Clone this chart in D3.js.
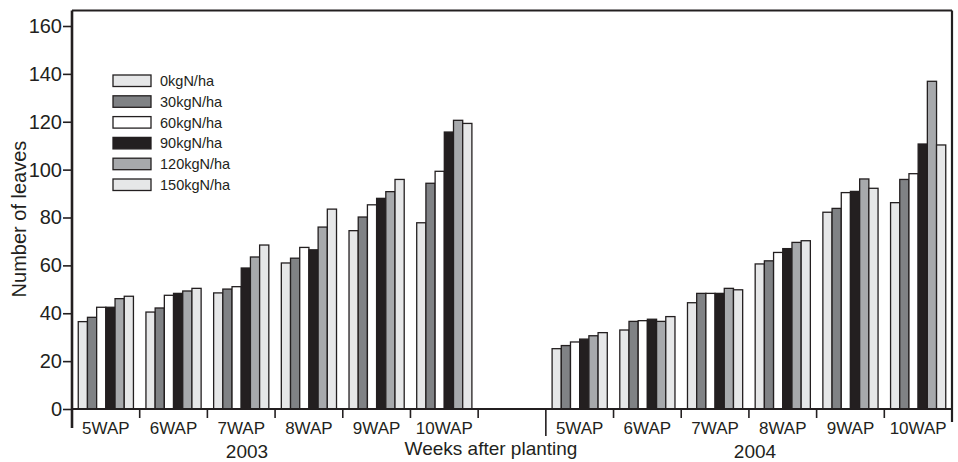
<!DOCTYPE html>
<html>
<head>
<meta charset="utf-8">
<script src="https://cdn.jsdelivr.net/npm/d3@7"></script>
<style>
  body { margin: 0; background: #fff; }
  text { font-family: 'Liberation Sans', Arial, Helvetica, sans-serif; fill: #231f20; }
</style>
</head>
<body>
<div id="chart"></div>
<script>
// Data
const weeks = ['5WAP', '6WAP', '7WAP', '8WAP', '9WAP', '10WAP']
const years = ['2003', '2004']
const rates = ['0kgN/ha', '30kgN/ha', '60kgN/ha', '90kgN/ha', '120kgN/ha', '150kgN/ha']
const yTicks = [0, 20, 40, 60, 80, 100, 120, 140, 160]

const values2003 = [
  [36.5, 38.3, 42.5, 42.5, 46.1, 47.1],
  [40.5, 42.2, 47.5, 48.3, 49.3, 50.4],
  [48.5, 50.1, 51.1, 58.9, 63.5, 68.5],
  [61, 63, 67.5, 66.5, 76, 83.5],
  [74.5, 80.2, 85.3, 88, 90.8, 95.9],
  [77.8, 94.3, 99.3, 115.7, 120.6, 119.3]
]
const values2004 = [
  [25.2, 26.5, 28, 29.2, 30.6, 31.9],
  [33, 36.6, 36.9, 37.5, 36.6, 38.6],
  [44.4, 48.3, 48.3, 48.3, 50.4, 49.8],
  [60.6, 61.9, 65.4, 67, 69.6, 70.3],
  [82.2, 83.8, 90.4, 90.9, 96.1, 92.2],
  [86.2, 95.9, 98.3, 110.7, 136.9, 110.3]
]

const colors = ['#e6e7e8', '#808285', '#ffffff', '#231f20', '#a7a9ac', '#e6e7e8']

// Layout
const width = 958
const height = 462
const plotLeft = 72
const plotRight = 952
const plotTop = 10.5
const plotBottom = 409
const ink = '#231f20'

const svg = d3
  .select('#chart')
  .append('svg')
  .attr('width', width)
  .attr('height', height)

// one band per week, with an empty band between the two years
const keys = weeks.map(w => '2003-' + w)
  .concat(['gap'])
  .concat(weeks.map(w => '2004-' + w))

const xScale = d3.scaleBand().domain(keys).range([plotLeft, plotRight]).padding(0)
const barScale = d3
  .scaleBand()
  .domain(rates)
  .range([0, xScale.bandwidth()])
  .paddingInner(0)
  .paddingOuter(0.68)
const yScale = d3.scaleLinear().domain([0, 160]).range([plotBottom, 26])
const colorScale = d3.scaleOrdinal().domain(rates).range(colors)

const datapoints = []
weeks.forEach((w, i) => {
  rates.forEach((r, j) => {
    datapoints.push({ key: '2003-' + w, rate: r, value: values2003[i][j] })
    datapoints.push({ key: '2004-' + w, rate: r, value: values2004[i][j] })
  })
})

// Bars
svg
  .append('g')
  .selectAll('rect')
  .data(datapoints)
  .enter()
  .append('rect')
  .attr('x', d => xScale(d.key) + barScale(d.rate))
  .attr('y', d => yScale(d.value))
  .attr('width', barScale.bandwidth())
  .attr('height', d => plotBottom - yScale(d.value))
  .attr('fill', d => colorScale(d.rate))
  .attr('stroke', ink)
  .attr('stroke-width', 1.3)

// Y axis
const yAxis = d3.axisLeft(yScale).tickValues(yTicks).tickSize(9).tickPadding(1)
const yg = svg
  .append('g')
  .attr('transform', 'translate(' + plotLeft + ',0)')
  .call(yAxis)
yg.select('.domain').remove()
yg.selectAll('line').attr('stroke', ink).attr('stroke-width', 1.6)
yg.selectAll('text')
  .style('font-size', '20px')
  .style('font-family', "'Liberation Sans', Arial, sans-serif")
  .attr('fill', ink)

// Frame: left axis, top and right border, x baseline
const frame = svg.append('g').attr('stroke', ink).attr('fill', 'none')
frame.append('line').attr('x1', plotLeft).attr('x2', plotLeft).attr('y1', plotTop).attr('y2', 428).attr('stroke-width', 2.6)
frame.append('line').attr('x1', plotLeft).attr('x2', plotRight).attr('y1', plotTop).attr('y2', plotTop).attr('stroke-width', 2.2)
frame.append('line').attr('x1', plotRight).attr('x2', plotRight).attr('y1', plotTop).attr('y2', 422).attr('stroke-width', 2.2)
frame.append('line').attr('x1', plotLeft).attr('x2', plotRight).attr('y1', plotBottom).attr('y2', plotBottom).attr('stroke-width', 2.2)

// Category ticks at the band edges
const edges = keys.map(k => xScale(k)).slice(1)
frame
  .selectAll('.xtick')
  .data(edges)
  .enter()
  .append('line')
  .attr('class', 'xtick')
  .attr('x1', d => d)
  .attr('x2', d => d)
  .attr('y1', plotBottom)
  .attr('y2', (d, i) => (i === 6 ? 436 : 418))
  .attr('stroke-width', 1.6)

// Week labels
svg
  .append('g')
  .selectAll('text')
  .data(keys.filter(k => k !== 'gap'))
  .enter()
  .append('text')
  .attr('x', d => xScale(d) + xScale.bandwidth() / 2)
  .attr('y', 434)
  .attr('text-anchor', 'middle')
  .style('font-size', '17px')
  .text(d => d.split('-')[1])

// Year labels
svg
  .append('g')
  .selectAll('text')
  .data(years)
  .enter()
  .append('text')
  .attr('x', (d, i) => (i === 0 ? 247 : 755))
  .attr('y', 458)
  .attr('text-anchor', 'middle')
  .style('font-size', '19px')
  .text(d => d)

// Axis titles
svg
  .append('text')
  .attr('x', 491)
  .attr('y', 455)
  .attr('text-anchor', 'middle')
  .style('font-size', '19px')
  .text('Weeks after planting')

svg
  .append('text')
  .attr('transform', 'translate(26,219) rotate(-90)')
  .attr('text-anchor', 'middle')
  .style('font-size', '20px')
  .text('Number of leaves')

// Legend
const legend = svg
  .append('g')
  .selectAll('g')
  .data(rates)
  .enter()
  .append('g')
  .attr('transform', (d, i) => 'translate(113,' + (75 + i * 20.8) + ')')

legend
  .append('rect')
  .attr('width', 38)
  .attr('height', 11.5)
  .attr('fill', d => colorScale(d))
  .attr('stroke', ink)
  .attr('stroke-width', 1.3)

legend
  .append('text')
  .attr('x', 47)
  .attr('y', 11)
  .style('font-size', '14.5px')
  .text(d => d)
</script>
</body>
</html>
